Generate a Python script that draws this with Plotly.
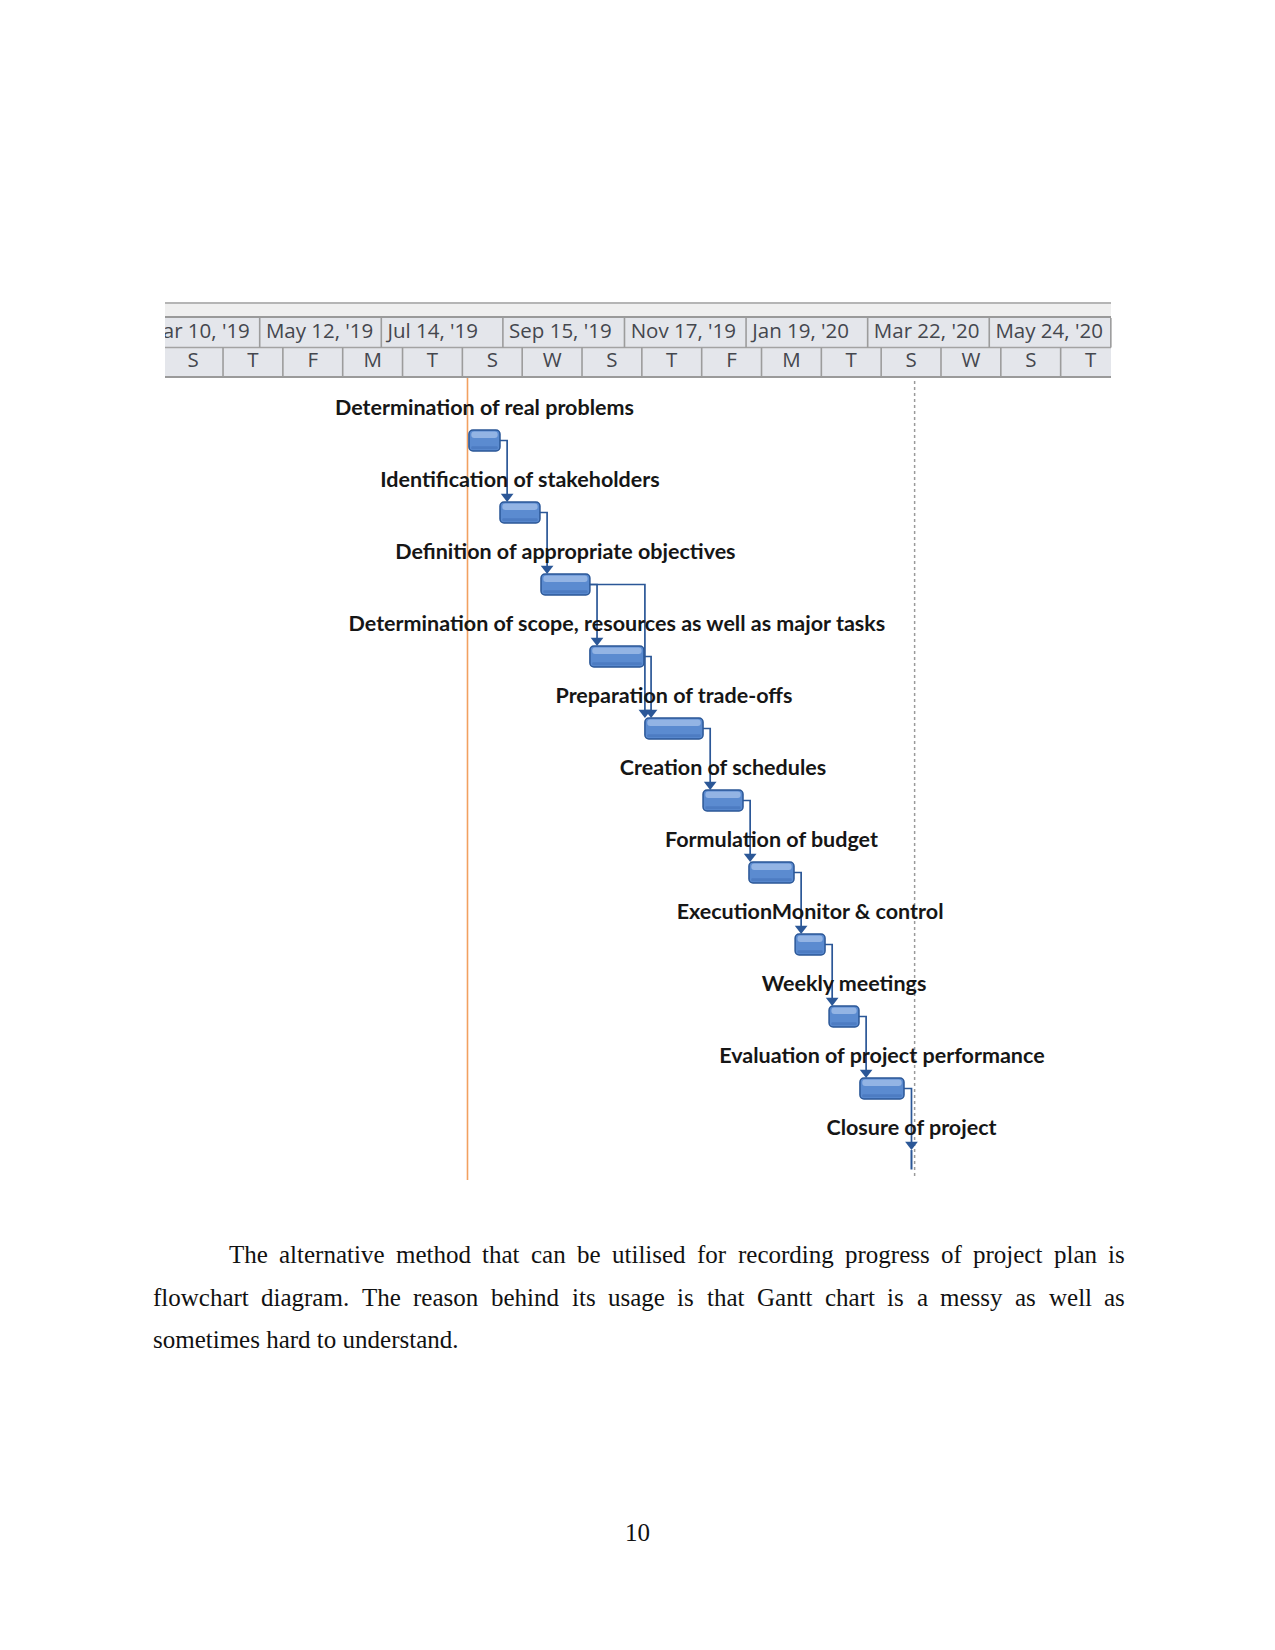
import plotly.graph_objects as go
import pandas as pd

W, H = 1275, 1650

# ---------------- data ----------------
tasks = [
    "Determination of real problems",
    "Identification of stakeholders",
    "Definition of appropriate objectives",
    "Determination of scope, resources as well as major tasks",
    "Preparation of trade-offs",
    "Creation of schedules",
    "Formulation of budget",
    "ExecutionMonitor & control",
    "Weekly meetings",
    "Evaluation of project performance",
    "Closure of project",
]
starts = [
    "2019-08-28 10:00", "2019-09-13 12:00", "2019-10-04 18:00", "2019-10-30 02:00",
    "2019-11-27 14:00", "2019-12-27 17:00", "2020-01-20 12:00", "2020-02-13 10:00",
    "2020-03-02 00:00", "2020-03-18 00:00", "2020-04-13 17:00",
]
finishes = [
    "2019-09-13 12:00", "2019-10-04 05:00", "2019-10-30 02:00", "2019-11-27 02:00",
    "2019-12-27 17:00", "2020-01-17 10:00", "2020-02-12 20:00", "2020-02-28 22:00",
    "2020-03-17 12:00", "2020-04-09 20:00", "2020-04-13 17:00",
]
links = [(0, 1), (1, 2), (2, 3), (2, 4), (3, 4), (4, 5), (5, 6), (6, 7), (7, 8), (8, 9), (9, 10)]
status_date = "2019-08-27 16:00"
finish_line_date = "2020-04-15 08:00"

major_dates = ["2019-03-10", "2019-05-12", "2019-07-14", "2019-09-15", "2019-11-17",
               "2020-01-19", "2020-03-22", "2020-05-24", "2020-07-26"]
major_labels = ["Mar 10, '19", "May 12, '19", "Jul 14, '19", "Sep 15, '19", "Nov 17, '19",
                "Jan 19, '20", "Mar 22, '20", "May 24, '20", ""]
minor_dates = ["2019-03-23", "2019-04-23", "2019-05-24", "2019-06-24", "2019-07-25",
               "2019-08-25", "2019-09-25", "2019-10-26", "2019-11-26", "2019-12-27",
               "2020-01-27", "2020-02-27", "2020-03-29", "2020-04-29", "2020-05-30",
               "2020-06-30", "2020-07-31"]
minor_labels = ["S", "T", "F", "M", "T", "S", "W", "S", "T", "F", "M", "T", "S", "W", "S", "T", ""]

para_lines = [
    "The alternative method that can be utilised for recording progress of project plan is",
    "flowchart diagram. The reason behind its usage is that Gantt chart is a messy as well as",
    "sometimes hard to understand.",
]
para_justify = [True, True, False]
para_start = [227, 151, 151]
para_end = 1123
para_baselines = [1262, 1305, 1347]
page_number = "10"

# ---------------- helpers ----------------
def px(p):
    return p / W

def py(p):
    return 1 - p / H

# Times / Liberation Serif advance widths (per 1000 em)
TNR = dict(a=444, b=500, c=444, d=500, e=444, f=333, g=500, h=500, i=278, j=278, k=500,
           l=278, m=778, n=500, o=500, p=500, q=500, r=333, s=389, t=278, u=500, v=500,
           w=722, x=500, y=500, z=444, T=611, G=722)
TNR["."] = 250
FS = 25

def word_w(w):
    return sum(TNR.get(c, 500) for c in w) * FS / 1000.0

st = pd.to_datetime(pd.Series(starts))
fi = pd.to_datetime(pd.Series(finishes))
rows = list(range(len(tasks)))
ROW0, ROWH = 440.5, 72.0          # pixel centre of row 0, pixels per row
BAR_W = 0.29
BLUE = "#2b5797"

x_lo = pd.Timestamp("2019-03-23 22:20")
x_hi = pd.Timestamp("2020-07-26 14:24")

fig = go.Figure()

# ---------------- bars ----------------
is_bar = [(fi[i] - st[i]) > pd.Timedelta(0) for i in rows]
bi = [i for i in rows if is_bar[i]]
dur_ms = [((fi[i] - st[i]) / pd.Timedelta(milliseconds=1)) for i in bi]
fig.add_trace(go.Bar(
    orientation="h", y=bi, base=[st[i] for i in bi], x=dur_ms,
    width=BAR_W, offset=-BAR_W / 2,
    marker=dict(color="#5b8bd0", line=dict(color=BLUE, width=1.5), cornerradius=4),
    hoverinfo="skip",
))
inset = pd.Timedelta(days=1.2)
inner_x = [((fi[i] - st[i] - 2 * inset) / pd.Timedelta(milliseconds=1)) for i in bi]
fig.add_trace(go.Bar(
    orientation="h", y=bi, base=[st[i] + inset for i in bi], x=inner_x,
    width=0.09, offset=-0.125,
    marker=dict(color="#93b4e4", line=dict(width=0), cornerradius=3),
    hoverinfo="skip",
))
fig.add_trace(go.Bar(
    orientation="h", y=bi, base=[st[i] + inset for i in bi], x=inner_x,
    width=0.04, offset=0.08,
    marker=dict(color="#4d7cc2", line=dict(width=0), cornerradius=2),
    hoverinfo="skip",
))

# milestone (zero duration) drawn as thin tick
for i in rows:
    if not is_bar[i]:
        fig.add_trace(go.Scatter(x=[st[i], st[i]], y=[i - BAR_W / 2, i + BAR_W / 2 - 0.02],
                                 mode="lines", line=dict(color=BLUE, width=2),
                                 hoverinfo="skip"))

# ---------------- links ----------------
lag = pd.Timedelta(days=3.7)
arrow_off = 0.076
lx, ly, ax_, ay_ = [], [], [], []
for p, s in links:
    xl = max(fi[p] + lag, st[s])
    top = s - BAR_W / 2
    lx += [fi[p], xl, xl, None]
    ly += [p, p, top - arrow_off, None]
    ax_.append(xl)
    ay_.append(top - arrow_off)
fig.add_trace(go.Scatter(x=lx, y=ly, mode="lines", line=dict(color=BLUE, width=1.7),
                         hoverinfo="skip", connectgaps=False))
fig.add_trace(go.Scatter(x=ax_, y=ay_, mode="markers",
                         marker=dict(symbol="triangle-down", size=11, color=BLUE),
                         hoverinfo="skip"))

# ---------------- task labels ----------------
mid = [st[i] + (fi[i] - st[i]) / 2 for i in rows]
fig.add_trace(go.Scatter(
    x=mid, y=[i - 0.425 for i in rows], mode="text", text=tasks,
    textposition="middle center",
    textfont=dict(family="Lato", size=21.5, color="#161616", weight=700),
    cliponaxis=False, hoverinfo="skip",
))

# ---------------- timescale header ----------------
maj = pd.to_datetime(pd.Series(major_dates))
mnr = pd.to_datetime(pd.Series(minor_dates))
pad = pd.Timedelta(days=3.2)
fig.add_trace(go.Scatter(
    x=[d + pad for d in maj], y=[1.5] * len(maj), mode="text", text=major_labels,
    textposition="middle right",
    textfont=dict(family="Open Sans", size=20.5, color="#44474e"),
    cliponaxis=True, xaxis="x", yaxis="y2", hoverinfo="skip",
))
mnr_mid = [mnr[k] + (mnr[k + 1] - mnr[k]) / 2 for k in range(len(mnr) - 1)]
fig.add_trace(go.Scatter(
    x=mnr_mid, y=[0.5] * len(mnr_mid), mode="text", text=minor_labels[:-1],
    textposition="middle center",
    textfont=dict(family="Open Sans", size=20.5, color="#44474e"),
    cliponaxis=True, xaxis="x", yaxis="y2", hoverinfo="skip",
))

shapes = []
shapes.append(dict(type="rect", xref="paper", yref="paper", x0=px(165), x1=px(1111),
                   y0=py(377), y1=py(318), fillcolor="#e4e6eb", line=dict(width=0), layer="below"))
shapes.append(dict(type="rect", xref="paper", yref="paper", x0=px(165), x1=px(1111),
                   y0=py(317), y1=py(304), fillcolor="#efefef", line=dict(width=0), layer="below"))
for yy, col, wd in [(303, "#b5b5b5", 2), (317, "#9a9a9a", 2.2), (347.5, "#a3a3a3", 1.5),
                    (377, "#9a9a9a", 2)]:
    shapes.append(dict(type="line", xref="paper", yref="paper", x0=px(165), x1=px(1111),
                       y0=py(yy), y1=py(yy), line=dict(color=col, width=wd), layer="below"))
for d in maj:
    shapes.append(dict(type="line", xref="x", yref="y2", x0=d, x1=d, y0=1.0, y1=2.0,
                       line=dict(color="#9c9c9c", width=1.6), layer="below"))
for d in mnr:
    shapes.append(dict(type="line", xref="x", yref="y2", x0=d, x1=d, y0=0.0, y1=1.0,
                       line=dict(color="#9c9c9c", width=1.6), layer="below"))
shapes.append(dict(type="line", xref="x", yref="paper", x0=status_date, x1=status_date,
                   y0=py(1180), y1=py(378), line=dict(color="#f2a060", width=1.6), layer="below"))
shapes.append(dict(type="line", xref="x", yref="paper", x0=finish_line_date, x1=finish_line_date,
                   y0=py(1176), y1=py(378), line=dict(color="#9a9a9a", width=1.5, dash="dot"),
                   layer="below"))

# ---------------- page text (justified paragraph) ----------------
annotations = []
font_body = dict(family="Liberation Serif", size=FS, color="#111111")
for line, just, x0, base in zip(para_lines, para_justify, para_start, para_baselines):
    if not just:
        annotations.append(dict(text=line, x=px(x0), y=py(base - 8), xref="paper", yref="paper",
                                xanchor="left", yanchor="middle", showarrow=False, font=font_body))
        continue
    words = line.split(" ")
    widths = [word_w(w) for w in words]
    gap = (para_end - x0 - sum(widths)) / (len(words) - 1)
    xpos = x0
    for w, ww in zip(words, widths):
        annotations.append(dict(text=w, x=px(xpos), y=py(base - 8), xref="paper", yref="paper",
                                xanchor="left", yanchor="middle", showarrow=False, font=font_body))
        xpos += ww + gap
annotations.append(dict(text=page_number, x=px(637), y=py(1532), xref="paper", yref="paper",
                        xanchor="center", yanchor="middle", showarrow=False, font=font_body))

fig.update_layout(
    width=W, height=H, margin=dict(l=0, r=0, t=0, b=0),
    paper_bgcolor="white", plot_bgcolor="rgba(0,0,0,0)",
    showlegend=False, barmode="overlay",
    xaxis=dict(type="date", domain=[px(165), px(1112)], range=[x_lo, x_hi],
               visible=False, anchor="y", fixedrange=True),
    yaxis=dict(domain=[0, 1], range=[(H - ROW0) / ROWH, -ROW0 / ROWH],
               visible=False, anchor="x", fixedrange=True),
    yaxis2=dict(domain=[py(377), py(318)], range=[0, 2], visible=False, anchor="x",
                fixedrange=True),
    shapes=shapes, annotations=annotations,
)

fig.write_html("out.html")
